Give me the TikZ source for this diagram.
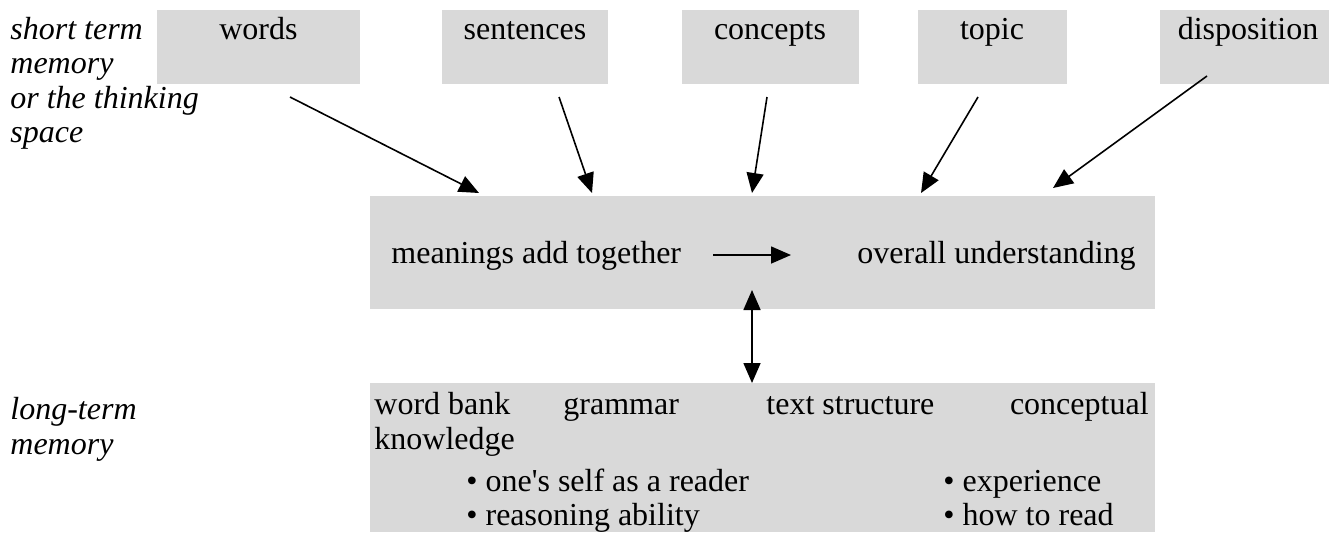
\documentclass[tikz,border=0pt]{standalone}
\usepackage{fontspec}
\setmainfont{Liberation Serif}
\usetikzlibrary{arrows.meta}
\definecolor{boxgray}{RGB}{217,217,217}
\begin{document}
\begin{tikzpicture}[x=0.5pt,y=-0.5pt,
  gbox/.style={fill=boxgray, draw=none, inner sep=0pt, anchor=north west},
  lbl/.style={inner sep=0pt, anchor=base, font=\fontsize{16}{18}\selectfont},
  side/.style={inner sep=0pt, anchor=base west, font=\fontsize{16}{18}\selectfont\itshape},
  arr/.style={-{Triangle[length=10pt,width=8.5pt]}, line width=0.8pt},
  darr/.style={{Triangle[length=10pt,width=8.5pt]}-{Triangle[length=10pt,width=8.5pt]}, line width=0.8pt},
]
\useasboundingbox (0,0) rectangle (1337,532);
% boxes
\node[gbox, minimum width=101.5pt, minimum height=37pt] (words) at (157,10) {};
\node[gbox, minimum width=83pt, minimum height=37pt] (sentences) at (442,10) {};
\node[gbox, minimum width=88.5pt, minimum height=37pt] (concepts) at (682,10) {};
\node[gbox, minimum width=74.5pt, minimum height=37pt] (topic) at (918,10) {};
\node[gbox, minimum width=84.5pt, minimum height=37pt] (disposition) at (1160,10) {};
\node[gbox, minimum width=392.5pt, minimum height=56.5pt] (main) at (370,196) {};
\node[gbox, minimum width=392.5pt, minimum height=74.5pt] (ltm) at (370,383) {};
% top box texts
\node[lbl] (tWords) at (258.5,39) {words};
\node[lbl] (tSent) at (525,39) {sentences};
\node[lbl] (tConc) at (770,39) {concepts};
\node[lbl] (tTopic) at (992,39) {topic};
\node[lbl] (tDisp) at (1248,39) {disposition};
% side labels
\node[side] (s1) at (10,39) {short term};
\node[side] (s2) at (10,73.5) {memory};
\node[side] (s3) at (10,108) {or the thinking};
\node[side] (s4) at (10,142.5) {space};
\node[side] (l1) at (10,419) {long-term};
\node[side] (l2) at (10,454) {memory};
% main box texts
\node[lbl, anchor=base west] (mean) at (391,263) {meanings add together};
\node[lbl, anchor=base east] (overall) at (1136,263) {overall understanding};
% long-term memory texts
\node[lbl, anchor=base west] (wb) at (374,414) {word bank};
\node[lbl, anchor=base west] (gr) at (563,414) {grammar};
\node[lbl, anchor=base west] (ts) at (766,414) {text structure};
\node[lbl, anchor=base east] (cc) at (1149,414) {conceptual};
\node[lbl, anchor=base west] (kn) at (374,449) {knowledge};
\node[lbl, anchor=base west] (b1) at (466,491) {• one\textquotesingle s self as a reader};
\node[lbl, anchor=base west] (b2) at (943,491) {• experience};
\node[lbl, anchor=base west] (b3) at (466,525) {• reasoning ability};
\node[lbl, anchor=base west] (b4) at (943,525) {• how to read};
% arrow ends
\coordinate (wS) at (290,97);   \coordinate (wE) at (479,193);
\coordinate (sS) at (559,97);   \coordinate (sE) at (592,193);
\coordinate (cS) at (767,97);   \coordinate (cE) at (752,193);
\coordinate (tS) at (978,97);   \coordinate (tE) at (921,193);
\coordinate (dS) at (1207,76);  \coordinate (dE) at (1053,188);
\coordinate (mS) at (713,255);  \coordinate (mE) at (791,255);
\coordinate (vS) at (752,290);  \coordinate (vE) at (752,383);
\draw[arr] (wS) -- (wE);
\draw[arr] (sS) -- (sE);
\draw[arr] (cS) -- (cE);
\draw[arr] (tS) -- (tE);
\draw[arr] (dS) -- (dE);
\draw[arr] (mS) -- (mE);
\draw[darr] (vS) -- (vE);
\end{tikzpicture}
\end{document}
